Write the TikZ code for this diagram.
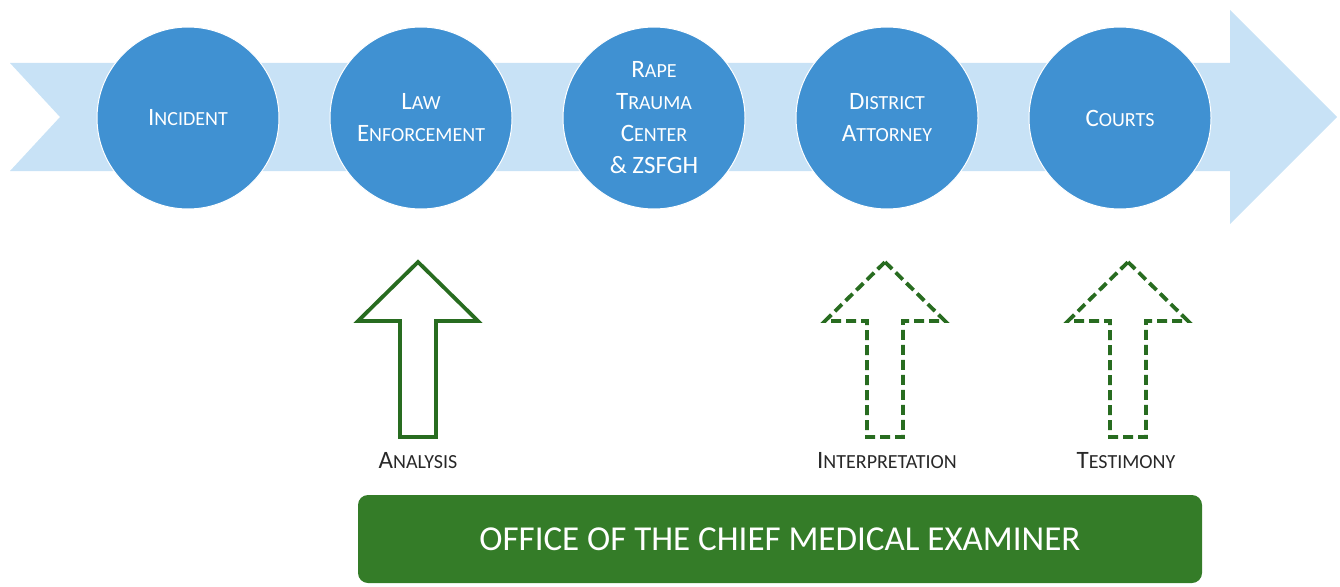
\documentclass[tikz,border=0pt]{standalone}
\usepackage{fontspec}
\setmainfont{Carlito}
\usetikzlibrary{positioning}

\definecolor{bandblue}{RGB}{200,226,246}
\definecolor{stageblue}{RGB}{64,145,210}
\definecolor{ocmegreen}{RGB}{52,124,40}
\definecolor{arrowgreen}{RGB}{40,108,32}
\definecolor{labelgray}{RGB}{40,40,40}

% fake small caps: first letter big, rest small
\newcommand{\fsc}[2]{#1{\fontsize{20}{20}\selectfont #2}}

\begin{document}
\begin{tikzpicture}[x=1pt,y=-1pt,
  stage/.style={circle, fill=stageblue, draw=white, line width=1pt, outer sep=0pt,
    minimum size=182pt, inner sep=0pt, text=white, align=center,
    font=\fontsize{25}{32}\selectfont},
  steplabel/.style={text=labelgray, font=\fontsize{25}{28}\selectfont, inner sep=0pt},
  outline/.style={draw=arrowgreen, line width=3.8pt, line join=miter},
  dashedoutline/.style={outline, dash pattern=on 10pt off 5pt},
  ocmebox/.style={fill=ocmegreen, rounded corners=10pt, minimum width=844pt,
    minimum height=88pt, text=white, font=\fontsize{35}{35}\selectfont}]

\useasboundingbox (0,0) rectangle (1340,586);

% the process band
\fill[bandblue] (10,63) -- (1230,63) -- (1230,10) -- (1337,117) -- (1230,224)
  -- (1230,171) -- (10,171) -- (60,117) -- cycle;

% stages
\node[stage] (incident) at (188,118) {\fsc{I}{NCIDENT}};
\node[stage] (law) at (421,118) {\fsc{L}{AW}\\\fsc{E}{NFORCEMENT}};
\node[stage] (rtc) at (654,118) {\fsc{R}{APE}\\\fsc{T}{RAUMA}\\\fsc{C}{ENTER}\\\& ZSFGH};
\node[stage] (da) at (887,118) {\fsc{D}{ISTRICT}\\\fsc{A}{TTORNEY}};
\node[stage] (courts) at (1120,118) {\fsc{C}{OURTS}};

% arrows from the examiner
\coordinate (analysistip) at (418,262);
\coordinate (interptip) at (885,262);
\coordinate (testtip) at (1128,262);

\draw[outline] (analysistip) -- ++(60,59) -- ++(-42,0) -- ++(0,116) -- ++(-36,0)
  -- ++(0,-116) -- ++(-42,0) -- cycle;
\draw[dashedoutline] (interptip) -- ++(60,59) -- ++(-42,0) -- ++(0,116) -- ++(-36,0)
  -- ++(0,-116) -- ++(-42,0) -- cycle;
\draw[dashedoutline] (testtip) -- ++(60,59) -- ++(-42,0) -- ++(0,116) -- ++(-36,0)
  -- ++(0,-116) -- ++(-42,0) -- cycle;

\node[steplabel] (analysis) at (418,461) {\fsc{A}{NALYSIS}};
\node[steplabel] (interp) at (887,461) {\fsc{I}{NTERPRETATION}};
\node[steplabel] (testimony) at (1126,461) {\fsc{T}{ESTIMONY}};

% office box
\node[ocmebox] (ocme) at (780,539) {OFFICE OF THE CHIEF MEDICAL EXAMINER};

\end{tikzpicture}
\end{document}
